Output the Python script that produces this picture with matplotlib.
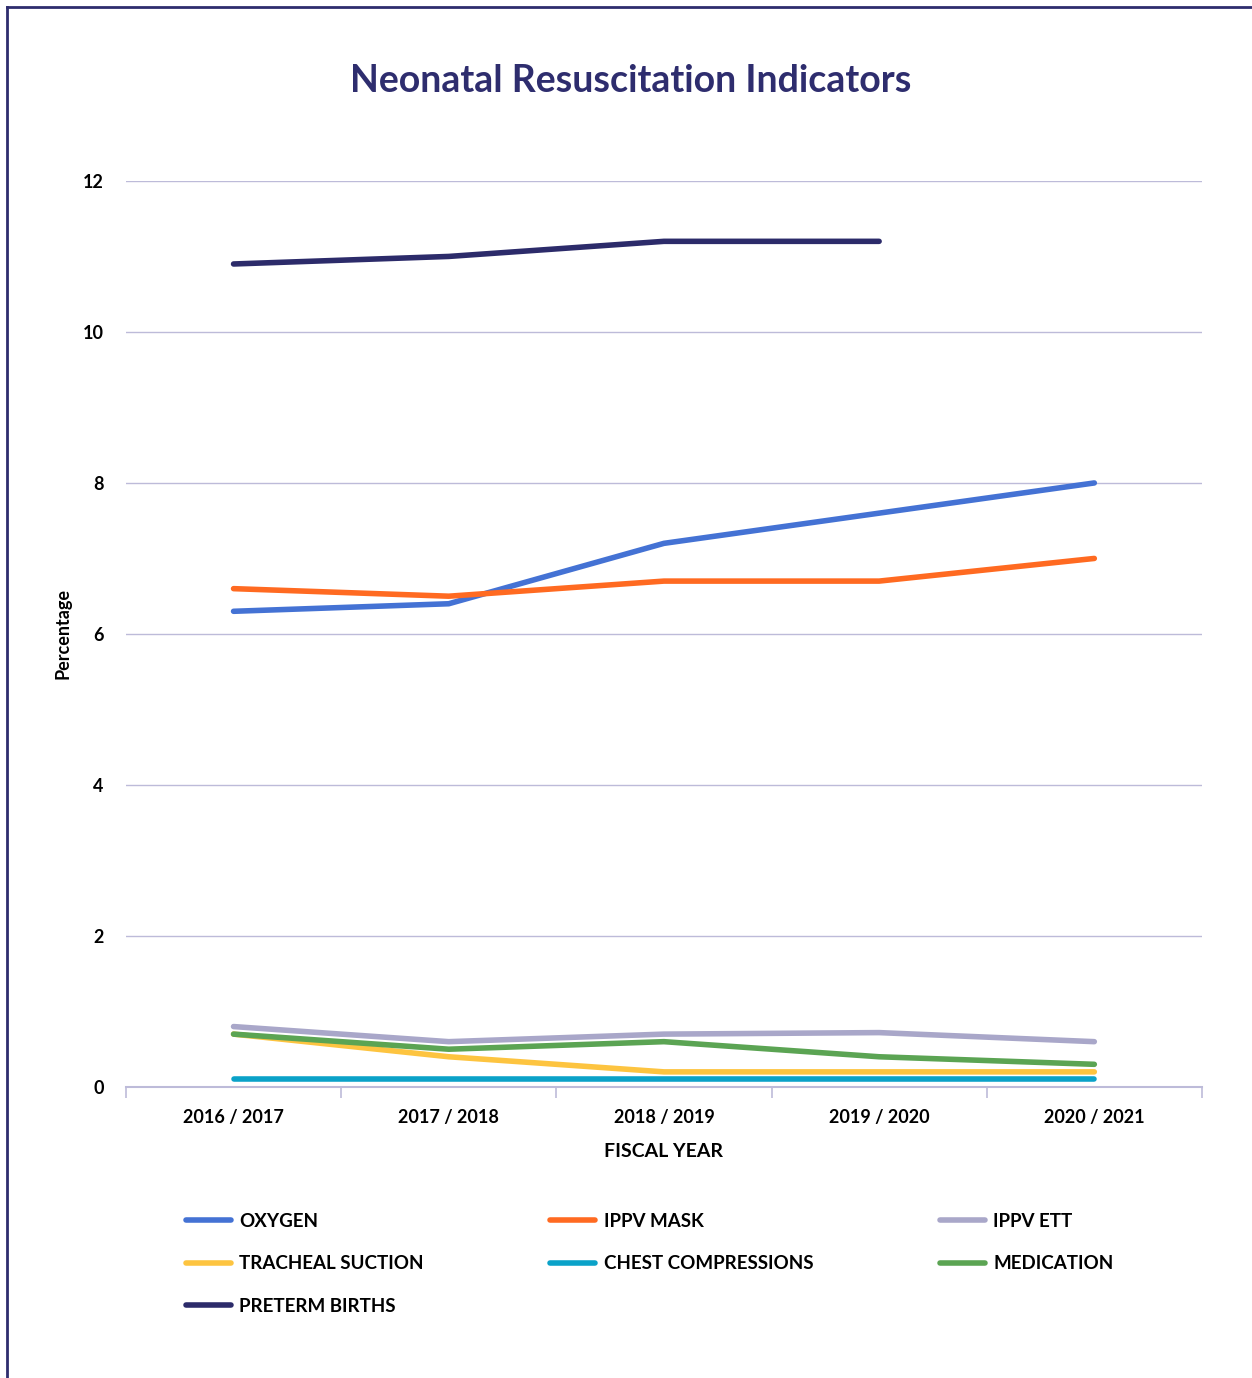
import matplotlib
matplotlib.use("Agg")
import matplotlib.pyplot as plt
from matplotlib.lines import Line2D
import numpy as np

plt.rcParams["font.family"] = ["Lato", "DejaVu Sans"]

# data
years = ["2016 / 2017", "2017 / 2018", "2018 / 2019", "2019 / 2020", "2020 / 2021"]
y_ticks = [0, 2, 4, 6, 8, 10, 12]
oxygen = [6.3, 6.4, 7.2, 7.6, 8.0]
ippv_mask = [6.6, 6.5, 6.7, 6.7, 7.0]
ippv_ett = [0.8, 0.6, 0.7, 0.72, 0.6]
tracheal_suction = [0.7, 0.4, 0.2, 0.2, 0.2]
chest_compressions = [0.1, 0.1, 0.1, 0.1, 0.1]
medication = [0.7, 0.5, 0.6, 0.4, 0.3]
preterm_births = [10.9, 11.0, 11.2, 11.2, None]

series = [
    ("OXYGEN", oxygen, "#4472d4"),
    ("IPPV MASK", ippv_mask, "#ff6a21"),
    ("IPPV ETT", ippv_ett, "#a9a7c9"),
    ("TRACHEAL SUCTION", tracheal_suction, "#fdc440"),
    ("CHEST COMPRESSIONS", chest_compressions, "#0aa2c8"),
    ("MEDICATION", medication, "#5ba453"),
    ("PRETERM BIRTHS", preterm_births, "#2c2b6a"),
]

navy = "#2e2d6e"
grid_col = "#bdbbd9"

fig = plt.figure(figsize=(12.52, 13.78), dpi=100)
ax = fig.add_axes([0.1006, 0.2112, 0.8594, 0.6575])

x = np.arange(len(years))
handles = {}
for name, vals, col in series:
    y = np.array([np.nan if v is None else v for v in vals], dtype=float)
    ax.plot(x, y, color=col, lw=4, solid_capstyle="round",
            solid_joinstyle="round", label=name)
    handles[name] = Line2D([], [], color=col, lw=4, solid_capstyle="round")

ax.set_xlim(-0.5, len(years) - 0.5)
ax.set_ylim(0, 12)
ax.set_yticks(y_ticks, [str(t) for t in y_ticks], fontsize=13, fontweight="bold")
ax.grid(axis="y", color=grid_col, lw=1)
ax.set_axisbelow(True)

for s in ["top", "right", "left"]:
    ax.spines[s].set_visible(False)
ax.spines["bottom"].set_color(grid_col)
ax.spines["bottom"].set_linewidth(1.5)

ax.set_xticks(x, years, fontsize=13, fontweight="bold")
ax.set_xticks(np.arange(-0.5, len(years)), minor=True)
ax.tick_params(axis="x", which="major", length=0, pad=16)
ax.tick_params(axis="x", which="minor", length=8, color=grid_col, width=1.2)
ax.tick_params(axis="y", length=0, pad=16)

ax.set_xlabel("FISCAL YEAR", fontsize=14, fontweight="bold", labelpad=12)
ax.set_ylabel("Percentage", fontsize=13, fontweight="bold", labelpad=8)

fig.text(0.504, 0.941, "Neonatal Resuscitation Indicators", ha="center",
         va="center", fontsize=27, fontweight="bold", color=navy)

# legend laid out row-wise like the original (matplotlib fills column-wise)
order = ["OXYGEN", "TRACHEAL SUCTION", "PRETERM BIRTHS",
         "IPPV MASK", "CHEST COMPRESSIONS",
         "IPPV ETT", "MEDICATION"]
fig.legend([handles[n] for n in order], order, ncol=3, frameon=False,
           loc="upper left", bbox_to_anchor=(0.135, 0.132),
           prop={"family": "Lato", "weight": "bold", "size": 13.5},
           handlelength=2.4, handletextpad=0.45, columnspacing=6.75,
           labelspacing=1.35)

# page border lines on top and left
fig.add_artist(Line2D([0.0056, 1.0], [0.9949, 0.9949], transform=fig.transFigure,
                      color=navy, lw=2))
fig.add_artist(Line2D([0.0056, 0.0056], [0.0, 0.9949], transform=fig.transFigure,
                      color=navy, lw=2))

fig.savefig("out.png", dpi=100, facecolor="white")
